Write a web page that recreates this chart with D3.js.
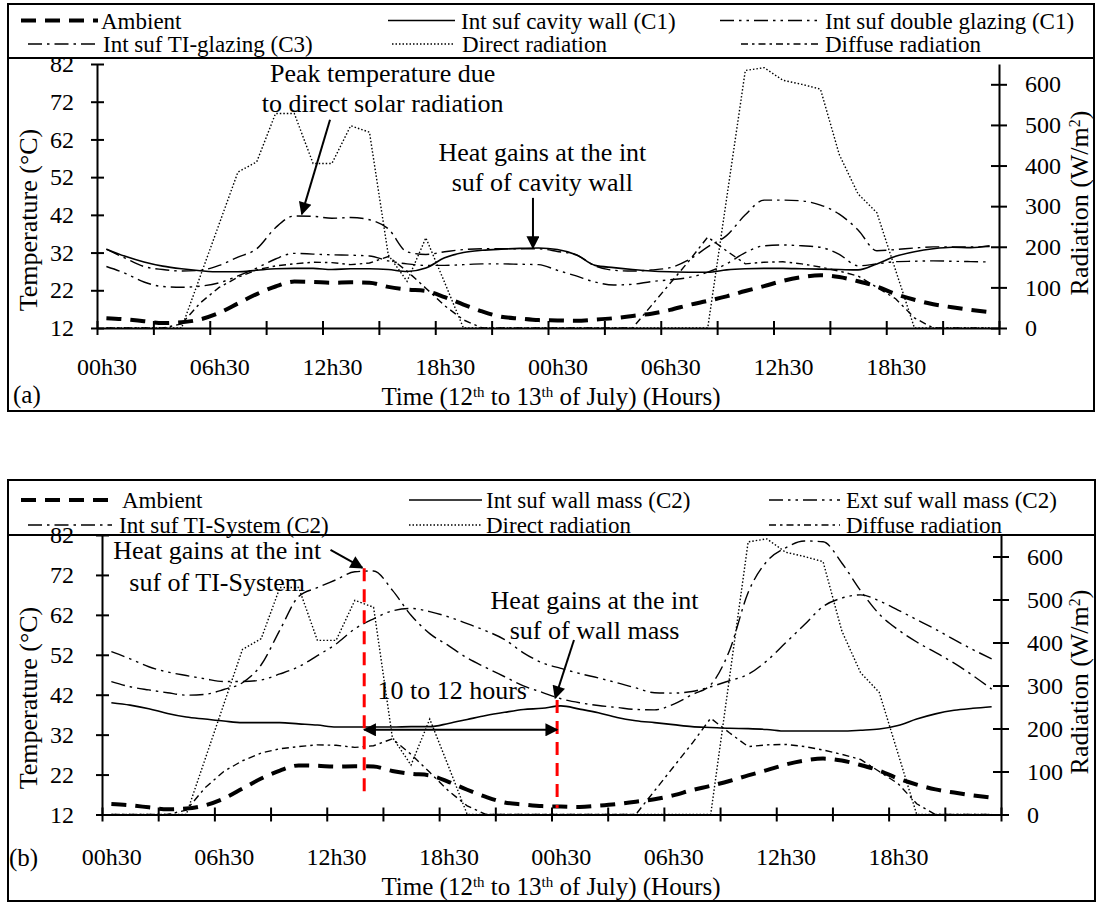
<!DOCTYPE html>
<html>
<head>
<meta charset="utf-8">
<script src="https://cdn.jsdelivr.net/npm/d3@7"></script>
<style>
  body { margin: 0; background: #fff; }
  text { font-family: "Liberation Serif", "Times New Roman", serif; fill: #000; }
</style>
</head>
<body>
<svg id="chart"></svg>
<script>
// time of each reading (hours from 00h00 on the 12th)
const hours = [0.5,1.5,2.5,3.5,4.5,5.5,6.5,7.5,8.5,9.5,10.5,11.5,12.5,13.5,14.5,15.5,16.5,17.5,18.5,19.5,
  20.5,21.5,22.5,23.5,24.5,25.5,26.5,27.5,28.5,29.5,30.5,31.5,32.5,33.5,34.5,35.5,36.5,37.5,38.5,39.5,
  40.5,41.5,42.5,43.5,44.5,45.5,46.5,47.5];
const xLabelHours = [0.5, 6.5, 12.5, 18.5, 24.5, 30.5, 36.5, 42.5];
const xLabels = ["00h30", "06h30", "12h30", "18h30", "00h30", "06h30", "12h30", "18h30"];
const tempTicks = [12, 22, 32, 42, 52, 62, 72, 82];
const radTicks = [0, 100, 200, 300, 400, 500, 600];

// shared weather data
const ambient = [14.6,14.3,13.8,13.3,13.5,14.3,16.0,18.5,21.0,23.0,24.3,24.2,24.0,24.1,24.0,22.9,22.2,21.8,20.2,18.2,
  16.4,15.0,14.5,14.1,14.0,13.9,14.2,14.6,15.2,15.8,16.8,18.1,19.2,20.4,21.8,23.1,24.5,25.5,26.0,25.5,
  24.4,23.0,21.0,19.5,18.3,17.5,16.8,16.2];
const direct = [0,0,0,0,0,128,256,384,409,528,528,405,405,498,482,180,115,222,112,0,
  0,0,0,0,0,0,0,0,0,0,0,0,0,317,634,641,610,600,588,427,
  330,284,142,0,0,0,0,0];
const diffuse = [0,0,0,0,10,62,100,125,143,153,158,162,161,156,160,176,140,98,55,20,
  0,0,0,0,0,0,0,0,0,55,110,165,224,190,158,162,163,158,150,140,
  128,100,72,25,0,0,0,0];

// (a)
const cavityWall = [32.9,31.0,29.5,28.4,27.7,27.2,26.9,26.9,27.3,27.7,27.8,27.8,27.5,27.7,27.7,27.5,27.0,27.9,30.6,32.0,
  32.6,32.9,33.1,33.2,32.8,31.4,28.6,28.0,27.5,27.1,26.9,26.8,26.8,27.4,27.7,27.8,27.8,27.7,27.6,27.5,
  27.4,29.0,31.0,32.2,33.0,33.4,33.3,33.8];
const doubleGlazing = [28.3,26.5,24.2,23.0,22.8,23.1,24.0,25.8,27.9,30.3,31.8,31.6,31.4,31.3,31.1,29.8,29.0,28.6,28.6,28.8,
  29.0,29.0,28.9,28.8,27.3,25.8,24.2,23.4,23.6,24.3,24.8,25.4,26.8,29.0,32.0,33.8,34.0,33.8,33.4,31.5,
  28.5,29.0,29.6,29.7,29.8,29.7,29.6,29.5];
const tiGlazing = [32.9,30.5,28.3,27.5,27.1,27.3,28.6,30.8,33.0,38.6,41.7,41.6,41.1,41.3,40.7,38.3,32.2,31.5,32.2,32.8,
  33.0,33.0,33.0,33.0,32.3,31.4,28.5,27.3,27.1,27.4,28.0,30.1,33.5,36.5,42.0,45.9,45.9,45.7,44.6,42.2,
  38.0,32.5,32.8,33.2,33.5,33.5,33.5,33.6];

// (b)
const wallMass = [40.0,39.4,38.5,37.3,36.4,35.9,35.4,35.0,35.0,35.0,34.7,34.4,33.9,33.9,33.9,33.9,34.0,34.0,34.8,35.8,
  36.8,37.6,38.3,38.6,39.2,38.4,37.5,36.3,35.5,35.0,34.5,34.0,33.8,33.6,33.5,33.3,32.9,32.9,32.9,32.9,
  33.1,33.4,34.3,35.9,37.2,38.1,38.6,39.0];
const extWallMass = [52.8,51.0,49.0,47.7,46.8,46.0,45.3,45.3,45.7,47.2,49.0,51.8,54.7,58.5,61.0,63.0,63.6,62.8,61.5,59.8,
  58.0,55.8,52.5,50.0,48.6,47.3,46.2,45.0,43.7,42.5,42.4,42.8,44.0,45.5,47.1,50.5,55.0,59.5,64.1,66.2,
  67.0,65.5,63.2,60.8,58.4,55.8,53.3,51.0];
const tiSystem = [45.3,44.0,43.2,42.5,41.9,42.1,43.3,45.0,49.5,58.2,66.6,68.8,70.8,72.8,73.0,68.2,61.9,57.3,54.3,51.2,
  48.8,46.5,44.2,42.6,41.0,40.0,39.3,38.8,38.3,38.2,39.6,42.0,44.5,53.0,67.6,75.4,78.8,80.5,80.3,75.0,
  68.1,62.2,58.3,55.2,52.6,49.9,46.8,43.4];

const styles = {
  ambient: { w: 4, dash: "15,9" },
  solid: { w: 1.6, dash: null },
  dashDot: { w: 1.4, dash: "14,5,2.5,5" },
  dashDotDot: { w: 1.4, dash: "14,5,2.5,5,2.5,5" },
  dotted: { w: 1.4, dash: "1.5,2" },
  diffuse: { w: 1.4, dash: "7,4,2.5,4" }
};

const panels = [
  {
    frame: [8, 4, 1094, 411], legendLine: 58, legendRows: [20.5, 44],
    left: 97, right: 999, top: 64, bottom: 328,
    tickLabelY: 367, titleY: 396, tag: "(a)", tagX: 13, tagY: 394,
    tempTitleY: 220, radTitleY: 203,
    series: [
      { name: "Direct radiation", values: direct, style: "dotted", rad: true },
      { name: "Diffuse radiation", values: diffuse, style: "diffuse", rad: true },
      { name: "Int suf double glazing (C1)", values: doubleGlazing, style: "dashDotDot" },
      { name: "Int suf TI-glazing (C3)", values: tiGlazing, style: "dashDot" },
      { name: "Int suf cavity wall (C1)", values: cavityWall, style: "solid" },
      { name: "Ambient", values: ambient, style: "ambient" }
    ],
    legend: [
      { name: "Ambient", style: "ambient", row: 0, x1: 21, x2: 98, tx: 101 },
      { name: "Int suf cavity wall (C1)", style: "solid", row: 0, x1: 388, x2: 455, tx: 461 },
      { name: "Int suf double glazing (C1)", style: "dashDotDot", row: 0, x1: 720, x2: 818, tx: 825 },
      { name: "Int suf TI-glazing (C3)", style: "dashDot", row: 1, x1: 28, x2: 98, tx: 103 },
      { name: "Direct radiation", style: "dotted", row: 1, x1: 392, x2: 455, tx: 462 },
      { name: "Diffuse radiation", style: "diffuse", row: 1, x1: 741, x2: 818, tx: 825 }
    ],
    notes: [
      { lines: ["Peak temperature due", "to direct solar radiation"], h: 15.2, T: [79.6, 71.7] },
      { lines: ["Heat gains at the int", "suf of cavity wall"], h: 23.7, T: [58.7, 50.7] }
    ],
    arrows: [
      { from: [12.4, 67.2], to: [10.9, 42.2] },
      { from: [23.2, 46.5], to: [23.2, 33.2] }
    ],
    guides: []
  },
  {
    frame: [8, 480, 1095, 901], legendLine: 535, legendRows: [500, 525],
    left: 102, right: 1001, top: 535, bottom: 814.5,
    tickLabelY: 857, titleY: 886, tag: "(b)", tagX: 9, tagY: 857,
    tempTitleY: 698, radTitleY: 682,
    series: [
      { name: "Direct radiation", values: direct, style: "dotted", rad: true },
      { name: "Diffuse radiation", values: diffuse, style: "diffuse", rad: true },
      { name: "Ext suf wall mass (C2)", values: extWallMass, style: "dashDotDot" },
      { name: "Int suf TI-System (C2)", values: tiSystem, style: "dashDot" },
      { name: "Int suf wall mass (C2)", values: wallMass, style: "solid" },
      { name: "Ambient", values: ambient, style: "ambient" }
    ],
    legend: [
      { name: "Ambient", style: "ambient", row: 0, x1: 21, x2: 115, tx: 122 },
      { name: "Int suf wall mass (C2)", style: "solid", row: 0, x1: 409, x2: 482, tx: 486 },
      { name: "Ext suf wall mass (C2)", style: "dashDotDot", row: 0, x1: 769, x2: 840, tx: 846 },
      { name: "Int suf TI-System (C2)", style: "dashDot", row: 1, x1: 28, x2: 112, tx: 119 },
      { name: "Direct radiation", style: "dotted", row: 1, x1: 409, x2: 482, tx: 486 },
      { name: "Diffuse radiation", style: "diffuse", row: 1, x1: 769, x2: 840, tx: 846 }
    ],
    notes: [
      { lines: ["Heat gains at the int", "suf of TI-System"], h: 6.15, T: [78.3, 70.3] },
      { lines: ["Heat gains at the int", "suf of wall mass"], h: 26.3, T: [65.8, 58.2] },
      { lines: ["10 to 12 hours"], h: 18.7, T: [43.2] }
    ],
    arrows: [
      { from: [12.2, 78.3], to: [13.9, 73.8] },
      { from: [25.2, 55.7], to: [24.2, 41.2] },
      { from: [14.0, 33.2], to: [24.3, 33.2], both: true }
    ],
    guides: [
      { h: 14.0, T: [73.7, 16.0] },
      { h: 24.3, T: [40.7, 13.6] }
    ]
  }
];

const svg = d3.select("#chart").attr("width", 1096).attr("height", 903);

svg.append("defs").append("marker")
  .attr("id", "head")
  .attr("viewBox", "0 0 10 10")
  .attr("refX", 9).attr("refY", 5)
  .attr("markerUnits", "userSpaceOnUse")
  .attr("markerWidth", 17).attr("markerHeight", 13)
  .attr("orient", "auto-start-reverse")
  .append("path").attr("d", "M0,0L10,5L0,10Z").attr("fill", "#000");

function styled(sel, key) {
  const st = styles[key];
  return sel.attr("fill", "none").attr("stroke", "#000")
    .attr("stroke-width", st.w).attr("stroke-dasharray", st.dash);
}

function drawPanel(p) {
  const g = svg.append("g");
  const x = d3.scaleLinear().domain([0, 48]).range([p.left, p.right]);
  const yT = d3.scaleLinear().domain([12, 82]).range([p.bottom, p.top]);
  const yR = d3.scaleLinear().domain([0, 650]).range([p.bottom, p.top]);

  // frame + legend divider
  const [fx0, fy0, fx1, fy1] = p.frame;
  g.append("rect").attr("x", fx0).attr("y", fy0).attr("width", fx1 - fx0).attr("height", fy1 - fy0)
    .attr("fill", "none").attr("stroke", "#000").attr("stroke-width", 2);
  g.append("line").attr("x1", fx0).attr("x2", fx1).attr("y1", p.legendLine).attr("y2", p.legendLine)
    .attr("stroke", "#000").attr("stroke-width", 2);

  // axes
  const bottomAxis = g.append("g").attr("transform", `translate(0,${p.bottom})`)
    .call(d3.axisBottom(x).tickValues(d3.range(0, 49, 3)).tickFormat("").tickSizeOuter(0));
  bottomAxis.selectAll(".tick line").attr("y1", -7).attr("y2", 7);

  const labels = g.append("g").attr("transform", `translate(0,${p.bottom})`)
    .call(d3.axisBottom(x).tickValues(xLabelHours).tickFormat((d, i) => xLabels[i]).tickSize(0));
  labels.select(".domain").remove();
  labels.selectAll("text").attr("y", p.tickLabelY - p.bottom).attr("dy", "0.35em");

  const leftAxis = g.append("g").attr("transform", `translate(${p.left},0)`)
    .call(d3.axisLeft(yT).tickValues(tempTicks).tickSizeOuter(0).tickSizeInner(6).tickPadding(p.left - 74 - 6));
  leftAxis.selectAll(".tick line").attr("x1", -6).attr("x2", 7);

  const rightAxis = g.append("g").attr("transform", `translate(${p.right},0)`)
    .call(d3.axisRight(yR).tickValues(radTicks).tickSizeOuter(0).tickSizeInner(7).tickPadding(19));
  rightAxis.selectAll(".tick line").attr("x1", -8).attr("x2", 8);

  [bottomAxis, labels, leftAxis, rightAxis].forEach(a => {
    a.attr("font-family", null).attr("font-size", 24);
    a.selectAll(".domain, .tick line").attr("stroke-width", 2);
  });

  // axis titles
  g.append("text")
    .attr("transform", `translate(28,${p.tempTitleY}) rotate(-90)`)
    .attr("text-anchor", "middle").attr("dy", "0.35em").attr("font-size", 26)
    .text("Temperature (°C)");
  const rt = g.append("text")
    .attr("transform", `translate(1079,${p.radTitleY}) rotate(-90)`)
    .attr("text-anchor", "middle").attr("dy", "0.35em").attr("font-size", 26)
    .style("white-space", "pre");
  rt.append("tspan").text("Radiation (W/m");
  rt.append("tspan").attr("baseline-shift", "super").attr("font-size", 16).text("2");
  rt.append("tspan").text(")");

  const tt = g.append("text")
    .attr("x", 551).attr("y", p.titleY).attr("dy", "0.35em")
    .attr("text-anchor", "middle").attr("font-size", 25).style("white-space", "pre");
  [["Time (12", false], ["th", true], [" to 13", false], ["th", true], [" of July) (Hours)", false]]
    .forEach(([s, sup]) => {
      const ts = tt.append("tspan").text(s);
      if (sup) ts.attr("baseline-shift", "super").attr("font-size", 15);
    });

  g.append("text").attr("x", p.tagX).attr("y", p.tagY).attr("dy", "0.35em")
    .attr("font-size", 25).text(p.tag);

  // series
  p.series.forEach(s => {
    const y = s.rad ? yR : yT;
    styled(g.append("path").datum(s.values), s.style)
      .attr("d", d3.line()
        .x((d, i) => x(hours[i]))
        .y(d => y(d))
        .curve(s.rad ? d3.curveLinear : d3.curveMonotoneX));
  });

  // legend
  p.legend.forEach(l => {
    const ly = p.legendRows[l.row];
    styled(g.append("line"), l.style)
      .attr("x1", l.x1).attr("x2", l.x2).attr("y1", ly).attr("y2", ly);
    g.append("text").attr("x", l.tx).attr("y", ly).attr("dy", "0.35em")
      .attr("font-size", 23).text(l.name);
  });

  // red guide lines
  p.guides.forEach(r => {
    g.append("line")
      .attr("x1", x(r.h)).attr("x2", x(r.h))
      .attr("y1", yT(r.T[0])).attr("y2", yT(r.T[1]))
      .attr("stroke", "#ff0000").attr("stroke-width", 3).attr("stroke-dasharray", "13,8");
  });

  // annotations
  p.notes.forEach(n => {
    n.lines.forEach((t, i) => {
      g.append("text").attr("x", x(n.h)).attr("y", yT(n.T[i])).attr("dy", "0.35em")
        .attr("text-anchor", "middle").attr("font-size", 26).text(t);
    });
  });
  p.arrows.forEach(a => {
    const ln = g.append("line")
      .attr("x1", x(a.from[0])).attr("y1", yT(a.from[1]))
      .attr("x2", x(a.to[0])).attr("y2", yT(a.to[1]))
      .attr("stroke", "#000").attr("stroke-width", 2)
      .attr("marker-end", "url(#head)");
    if (a.both) ln.attr("marker-start", "url(#head)");
  });
}

panels.forEach(drawPanel);
</script>
</body>
</html>
